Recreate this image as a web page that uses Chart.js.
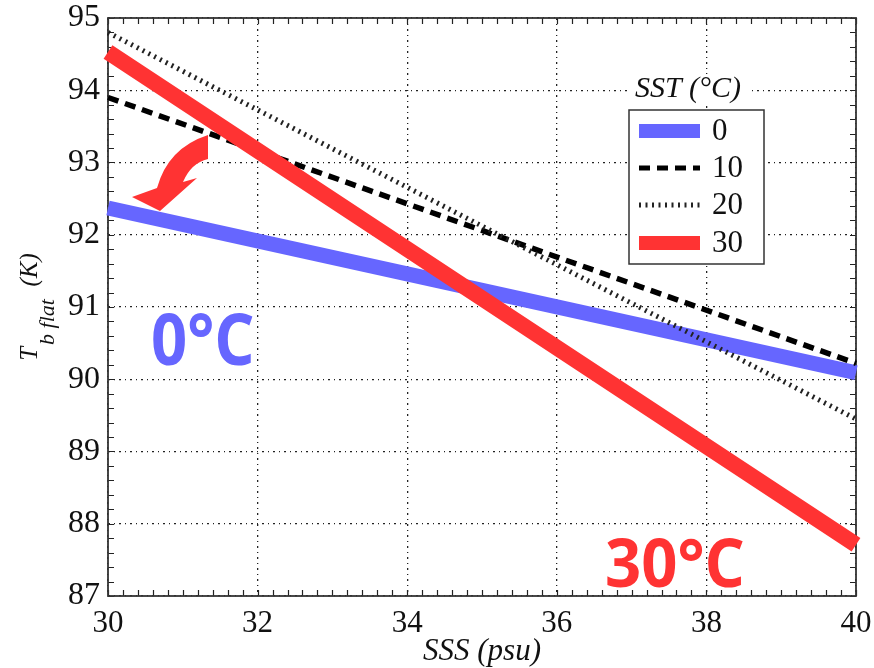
<!DOCTYPE html>
<html lang="en">
<head>
<meta charset="UTF-8">
<title>Tb flat vs SSS</title>
<script src="https://cdn.jsdelivr.net/npm/chart.js"></script>
<style>
  html, body { margin: 0; padding: 0; background: #fff; }
  #wrap { width: 874px; height: 668px; }
</style>
</head>
<body>
<div id="wrap"><canvas id="tbChart" width="874" height="668"></canvas></div>
<script>
// salinity (psu) at which the curves were read
const sss = [30, 35, 40];
// flat-surface brightness temperature (K), one array per SST
const tb0 = [92.37, 91.23, 90.09];
const tb10 = [93.90, 92.06, 90.22];
const tb20 = [94.80, 92.12, 89.45];
const tb30 = [94.53, 91.12, 87.71];
const sstLabels = ['0', '10', '20', '30'];
const xTicks = [30, 32, 34, 36, 38, 40];
const yTicks = [87, 88, 89, 90, 91, 92, 93, 94, 95];

const BLUE = '#6666ff';
const RED = '#ff3333';
const SERIF = 'Liberation Serif';

function pts(ys) {
    return sss.map((x, i) => ({ x: x, y: ys[i] }));
}

// scaled text helper for the big coloured labels
function squeezed(ctx, text, x, y, size, sx) {
    ctx.save();
    ctx.translate(x, y);
    ctx.scale(sx, 1);
    ctx.font = 'bold ' + size + 'px "Open Sans", "Noto Sans", sans-serif';
    ctx.fillText(text, 0, 0);
    ctx.restore();
}

// frame, inside minor ticks, legend, labels and the arrow
const decor = {
    id: 'decor',
    beforeDatasetsDraw(chart) {
        const { ctx, chartArea: a, scales } = chart;
        ctx.save();
        ctx.strokeStyle = '#222';
        ctx.lineWidth = 1.2;
        // minor ticks every 0.2 on all four sides
        for (let v = 30; v <= 40.001; v += 0.2) {
            const px = Math.round(scales.x.getPixelForValue(v)) + 0.5;
            ctx.beginPath();
            ctx.moveTo(px, a.bottom); ctx.lineTo(px, a.bottom - 6);
            ctx.moveTo(px, a.top); ctx.lineTo(px, a.top + 6);
            ctx.stroke();
        }
        for (let v = 87; v <= 95.001; v += 0.2) {
            const py = Math.round(scales.y.getPixelForValue(v)) + 0.5;
            ctx.beginPath();
            ctx.moveTo(a.left, py); ctx.lineTo(a.left + 6, py);
            ctx.moveTo(a.right, py); ctx.lineTo(a.right - 6, py);
            ctx.stroke();
        }
        ctx.lineWidth = 1.8;
        ctx.strokeStyle = '#333';
        ctx.strokeRect(a.left, a.top, a.right - a.left, a.bottom - a.top);
        ctx.restore();
    },
    afterDraw(chart) {
        const { ctx, chartArea: a } = chart;
        ctx.save();

        // y axis title: T_b flat (K), reads bottom to top
        const midY = (a.top + a.bottom) / 2;
        ctx.translate(37, midY);
        ctx.rotate(-Math.PI / 2);
        ctx.fillStyle = '#111';
        ctx.textBaseline = 'alphabetic';
        const big = 'italic 25px ' + SERIF;
        const small = 'italic 22px ' + SERIF;
        ctx.font = big;
        const wT = ctx.measureText('T').width + 2;
        const wK = ctx.measureText('  (K)').width;
        ctx.font = small;
        const wS = ctx.measureText('b flat').width;
        const x0 = -(wT + wS + wK) / 2;
        ctx.font = big;
        ctx.fillText('T', x0, 0);
        ctx.font = small;
        ctx.fillText('b flat', x0 + wT, 17);
        ctx.font = big;
        ctx.fillText('  (K)', x0 + wT + wS, 0);
        ctx.setTransform(1, 0, 0, 1, 0, 0);

        // legend
        const box = { l: 629, t: 110, r: 764, b: 264 };
        ctx.fillStyle = '#fff';
        ctx.fillRect(628, 74, 124, 28);
        ctx.fillRect(box.l, box.t, box.r - box.l, box.b - box.t);
        ctx.strokeStyle = '#333';
        ctx.lineWidth = 1.5;
        ctx.strokeRect(box.l, box.t, box.r - box.l, box.b - box.t);
        ctx.fillStyle = '#111';
        ctx.font = 'italic 30px ' + SERIF;
        ctx.textAlign = 'center';
        ctx.textBaseline = 'middle';
        ctx.fillText('SST (\u00B0C)', 688, 89);
        const rows = [131, 168, 205, 243];
        chart.data.datasets.forEach((ds, i) => {
            const y = rows[i];
            ctx.beginPath();
            ctx.strokeStyle = ds.borderColor;
            ctx.lineWidth = ds.legendWidth;
            ctx.setLineDash(ds.borderDash || []);
            ctx.moveTo(639, y);
            ctx.lineTo(700, y);
            ctx.stroke();
            ctx.setLineDash([]);
            ctx.fillStyle = '#111';
            ctx.textAlign = 'left';
            ctx.font = '31px ' + SERIF;
            ctx.fillText(ds.label, 712, y + 1);
        });

        // curved arrow
        ctx.fillStyle = RED;
        ctx.beginPath();
        ctx.moveTo(208, 135);
        ctx.quadraticCurveTo(168, 148, 157, 188);
        ctx.lineTo(132, 197);
        ctx.lineTo(160, 211);
        ctx.lineTo(197, 178);
        ctx.lineTo(183, 182);
        ctx.quadraticCurveTo(191, 163, 208, 159);
        ctx.closePath();
        ctx.fill();

        // big labels
        ctx.textAlign = 'left';
        ctx.textBaseline = 'alphabetic';
        ctx.fillStyle = BLUE;
        squeezed(ctx, '0\u00B0C', 151, 365, 72, 0.88);
        ctx.fillStyle = RED;
        squeezed(ctx, '30\u00B0C', 605, 587, 66, 0.96);
        ctx.restore();
    }
};

new Chart(document.getElementById('tbChart'), {
    type: 'line',
    data: {
        datasets: [
            { label: sstLabels[0], data: pts(tb0), borderColor: BLUE, borderWidth: 15, legendWidth: 14, order: 3 },
            { label: sstLabels[1], data: pts(tb10), borderColor: '#000', borderWidth: 5.5, legendWidth: 5, borderDash: [11, 7], order: 2 },
            { label: sstLabels[2], data: pts(tb20), borderColor: '#222', borderWidth: 5, legendWidth: 5, borderDash: [2, 4.5], order: 1 },
            { label: sstLabels[3], data: pts(tb30), borderColor: RED, borderWidth: 16, legendWidth: 14, order: 0 }
        ].map(d => Object.assign(d, { pointRadius: 0, fill: false, tension: 0, clip: false, borderCapStyle: 'butt' }))
    },
    options: {
        responsive: false,
        animation: false,
        devicePixelRatio: 1,
        layout: { padding: { top: 18, right: 18, left: 0, bottom: 0 } },
        plugins: { legend: { display: false }, tooltip: { enabled: false } },
        scales: {
            x: {
                type: 'linear', min: 30, max: 40,
                afterBuildTicks: s => { s.ticks = xTicks.map(v => ({ value: v })); },
                afterFit: s => { s.height = 72; s.paddingLeft = 0; s.paddingRight = 0; },
                ticks: { color: '#111', padding: 9, maxRotation: 0, font: { family: SERIF, size: 31 } },
                grid: { color: '#222', lineWidth: 1.3, drawTicks: false },
                border: { display: false, dash: [2, 4, 1, 4] },
                title: { display: true, text: 'SSS (psu)', color: '#111', padding: { top: 0, bottom: 1 },
                         font: { family: SERIF, size: 31, style: 'italic', lineHeight: 1 } }
            },
            y: {
                type: 'linear', min: 87, max: 95,
                afterBuildTicks: s => { s.ticks = yTicks.map(v => ({ value: v })); },
                afterFit: s => { s.width = 108; s.paddingTop = 0; s.paddingBottom = 0; },
                ticks: { color: '#111', padding: 8, font: { family: SERIF, size: 32 } },
                grid: { color: '#222', lineWidth: 1.3, drawTicks: false },
                border: { display: false, dash: [2, 4, 1, 4] }
            }
        }
    },
    plugins: [decor]
});
</script>
</body>
</html>
